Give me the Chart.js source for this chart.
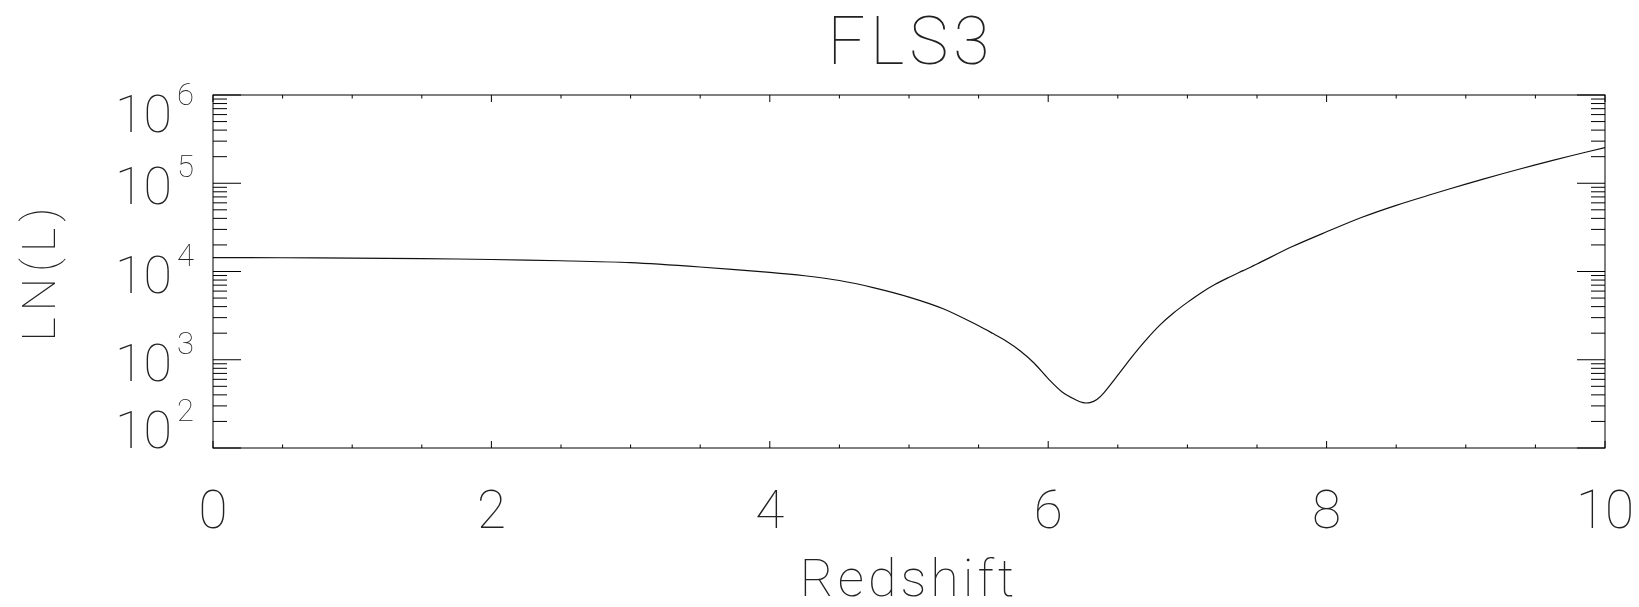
<!DOCTYPE html>
<html>
<head>
<meta charset="utf-8">
<title>FLS3</title>
<script src="https://cdn.jsdelivr.net/npm/chart.js@4/dist/chart.umd.min.js"></script>
<style>
  html, body { margin: 0; padding: 0; background: #fff; }
  #wrap { width: 1639px; height: 607px; }
</style>
</head>
<body>
<div id="wrap"><canvas id="chart" width="1639" height="607"></canvas></div>
<script>
// values
const redshift = [0, 0.5, 1, 1.5, 2, 2.5, 3, 3.5, 4, 4.25, 4.5, 4.75, 5, 5.25, 5.5, 5.6, 5.7, 5.8,
    5.9, 6, 6.1, 6.2, 6.25, 6.3, 6.35, 6.4, 6.5, 6.6, 6.7, 6.8, 6.9, 7, 7.1, 7.2, 7.3, 7.4, 7.5,
    7.75, 8, 8.25, 8.5, 8.75, 9, 9.25, 9.5, 9.75, 10];
const luminosity = [14390, 14320, 14190, 14000, 13680, 13240, 12590, 11250, 9770, 8950, 7910,
    6530, 5130, 3760, 2427, 1995, 1622, 1259, 912, 610, 432, 350, 326, 327, 355, 422, 668, 1072,
    1660, 2455, 3388, 4467, 5754, 7161, 8610, 10230, 12160, 19050, 28180, 40930, 56230, 74470,
    97720, 126500, 161800, 203700, 253500];

const xMajorTicks = [0, 2, 4, 6, 8, 10];
const xTickLabels = ['0', '2', '4', '6', '8', '10'];
const xMinorTicks = [0.5, 1, 1.5, 2.5, 3, 3.5, 4.5, 5, 5.5, 6.5, 7, 7.5, 8.5, 9, 9.5];
const yMajorTicks = [1e2, 1e3, 1e4, 1e5, 1e6];
const yTickExponents = ['2', '3', '4', '5', '6'];
const yMinorFactors = [2, 3, 4, 5, 6, 7, 8, 9];

const chartTitle = 'FLS3';
const xTitle = 'Redshift';
const yTitle = 'LN(L)';

const FONT = 'Roboto, "DejaVu Sans", sans-serif';

// IDL style box: ticks pointing inward on all four sides, labels drawn by hand
const idlFrame = {
    id: 'idlFrame',
    afterDraw(chart) {
        const {ctx, chartArea: a, scales: {x, y}} = chart;
        ctx.save();
        ctx.strokeStyle = '#000';
        ctx.lineWidth = 1;
        ctx.strokeRect(a.left, a.top, a.right - a.left, a.bottom - a.top);

        ctx.beginPath();
        const xTick = (v, len) => {
            const px = x.getPixelForValue(v);
            ctx.moveTo(px, a.bottom); ctx.lineTo(px, a.bottom - len);
            ctx.moveTo(px, a.top); ctx.lineTo(px, a.top + len);
        };
        xMajorTicks.forEach(v => xTick(v, 7));
        xMinorTicks.forEach(v => xTick(v, 3.5));

        const yTick = (v, len) => {
            const py = y.getPixelForValue(v);
            ctx.moveTo(a.left, py); ctx.lineTo(a.left + len, py);
            ctx.moveTo(a.right, py); ctx.lineTo(a.right - len, py);
        };
        yMajorTicks.forEach(v => yTick(v, 28));
        yMajorTicks.slice(0, -1).forEach(d => yMinorFactors.forEach(f => yTick(d * f, 14)));
        ctx.stroke();

        ctx.fillStyle = '#222';

        // x tick labels
        ctx.font = '100 53px ' + FONT;
        ctx.textAlign = 'center';
        ctx.textBaseline = 'alphabetic';
        xMajorTicks.forEach((v, i) => {
            ctx.fillText(xTickLabels[i], x.getPixelForValue(v), 528);
        });

        // y tick labels 10^n, kept inside the axis span
        yMajorTicks.forEach((v, i) => {
            const py = y.getPixelForValue(v);
            const base = Math.min(a.bottom, Math.max(a.top + 37, py + 21));
            ctx.textAlign = 'right';
            ctx.font = '100 31px ' + FONT;
            const expRight = a.left - 19;
            ctx.fillText(yTickExponents[i], expRight, base - 27);
            const expW = ctx.measureText(yTickExponents[i]).width;
            ctx.font = '100 52px ' + FONT;
            ctx.fillText('10', expRight - expW - 5, base);
        });

        // titles
        ctx.textAlign = 'center';
        ctx.font = '100 66px ' + FONT;
        ctx.letterSpacing = '5px';
        ctx.fillText(chartTitle, (a.left + a.right) / 2 + 2, 64);
        ctx.font = '100 52px ' + FONT;
        ctx.letterSpacing = '4px';
        ctx.fillText(xTitle, (a.left + a.right) / 2, 596);

        ctx.translate(55, (a.top + a.bottom) / 2);
        ctx.rotate(-Math.PI / 2);
        ctx.font = '100 47px ' + FONT;
        ctx.letterSpacing = '6px';
        ctx.fillText(yTitle, 0, 0);
        ctx.restore();
    }
};

new Chart(document.getElementById('chart'), {
    type: 'line',
    data: {
        datasets: [{
            label: chartTitle,
            data: redshift.map((z, i) => ({x: z, y: luminosity[i]})),
            borderColor: '#111',
            borderWidth: 1.2,
            pointRadius: 0,
            tension: 0.3,
            fill: false
        }]
    },
    options: {
        responsive: false,
        animation: false,
        devicePixelRatio: 1,
        layout: {padding: {left: 213, right: 34, top: 95, bottom: 159}},
        plugins: {legend: {display: false}, tooltip: {enabled: false}},
        scales: {
            x: {type: 'linear', min: 0, max: 10, display: false},
            y: {type: 'logarithmic', min: 100, max: 1e6, display: false}
        }
    },
    plugins: [idlFrame]
});
</script>
</body>
</html>
